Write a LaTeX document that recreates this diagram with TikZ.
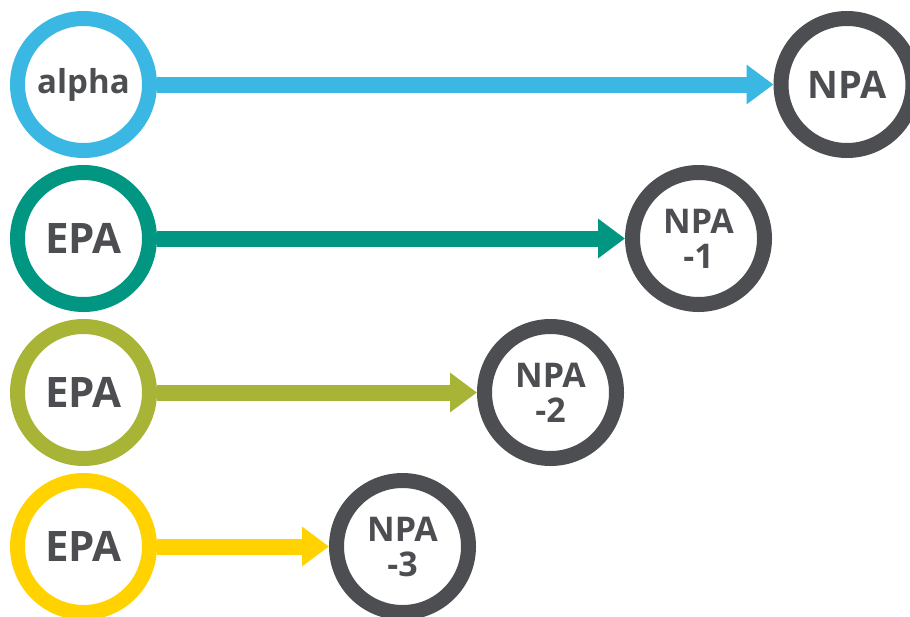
\documentclass[tikz,border=0pt]{standalone}
\usepackage{fontspec}
\setmainfont{Open Sans}
\usetikzlibrary{arrows.meta}
\definecolor{cblue}{HTML}{3AB7E2}
\definecolor{cteal}{HTML}{009682}
\definecolor{colive}{HTML}{A8B435}
\definecolor{cyellow}{HTML}{FFD200}
\definecolor{cgray}{HTML}{4D4E52}
\tikzset{
  ring/.style={circle, draw=#1, line width=15pt, minimum size=132pt, inner sep=0pt, outer sep=7.5pt, fill=white, text=cgray, align=center},
  conn/.style={draw=#1, line width=16pt, -{Triangle[length=27pt,width=38pt]}},
  big/.style={font=\fontsize{42}{42}\selectfont\bfseries},
  mid/.style={font=\fontsize{38}{38}\selectfont\bfseries},
  two/.style={font=\fontsize{34}{35}\selectfont\bfseries},
  sm/.style={font=\fontsize{33}{33}\selectfont\bfseries}
}
\begin{document}
\begin{tikzpicture}[x=1pt,y=-1pt]
\useasboundingbox (0,0) rectangle (910,616);
\node[ring=cblue, sm] (a) at (83.5,84.5) {alpha};
\node[ring=cgray, mid] (n0) at (847,84.5) {NPA};
\node[ring=cteal, big] (e1) at (83.5,238.5) {EPA};
\node[ring=cgray, two] (n1) at (698.5,238.5) {NPA\\-1};
\node[ring=colive, big] (e2) at (83.5,392.5) {EPA};
\node[ring=cgray, two] (n2) at (550.5,392.5) {NPA\\-2};
\node[ring=cyellow, big] (e3) at (83.5,546.5) {EPA};
\node[ring=cgray, two] (n3) at (402.5,546.5) {NPA\\-3};
\draw[conn=cblue] (a) -- (n0);
\draw[conn=cteal] (e1) -- (n1);
\draw[conn=colive] (e2) -- (n2);
\draw[conn=cyellow] (e3) -- (n3);
\end{tikzpicture}
\end{document}
